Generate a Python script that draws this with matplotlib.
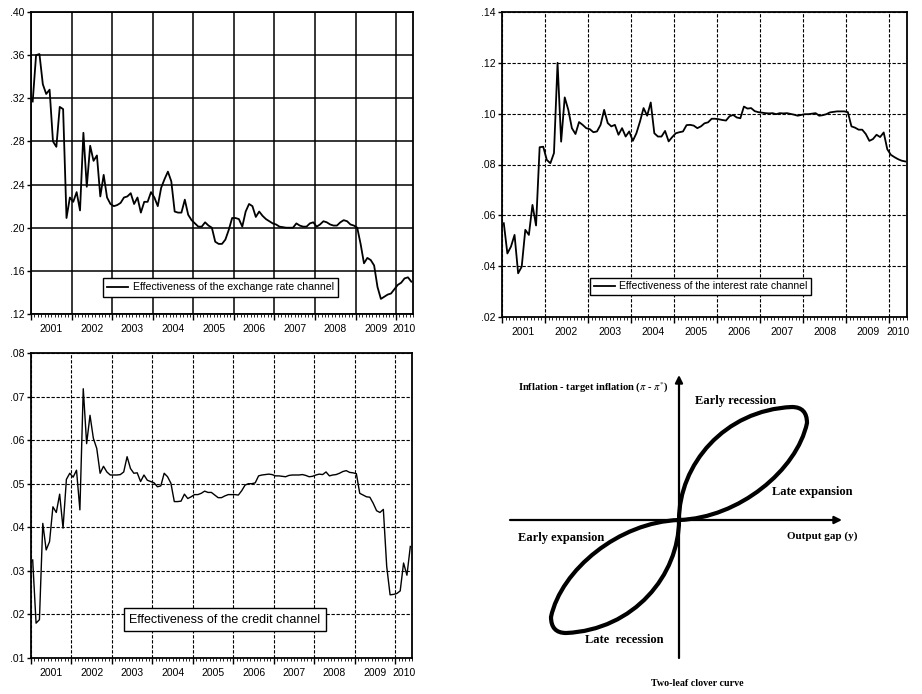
import numpy as np
import matplotlib
matplotlib.use('Agg')
import matplotlib.pyplot as plt
from matplotlib.path import Path
from matplotlib.patches import PathPatch
from matplotlib.ticker import FixedLocator, FuncFormatter, NullFormatter

plt.rcParams['font.family'] = ['Liberation Sans', 'DejaVu Sans']
plt.rcParams['mathtext.fontset'] = 'stix'

# monthly series, 2001M01 .. 2010M05
start_year = 2001
years = list(range(2001, 2011))

exchange = [
    .317, .360, .361, .333, .324, .328, .280, .275, .312, .310,
    .209, .228, .224, .233, .216, .288, .238, .276, .262, .267,
    .229, .249, .228, .222, .220, .221, .223, .228, .229, .232,
    .222, .228, .214, .224, .224, .233, .228, .220, .237, .245,
    .252, .243, .215, .214, .214, .226, .212, .207, .204, .201,
    .201, .205, .202, .200, .187, .185, .185, .189, .198, .209,
    .209, .208, .201, .215, .222, .220, .210, .215, .211, .208,
    .206, .204, .203, .201, .2005, .200, .200, .200, .204, .202,
    .201, .201, .204, .205, .201, .203, .206, .205, .203, .202,
    .202, .205, .207, .206, .203, .202, .200, .185, .167, .172,
    .170, .165, .145, .134, .136, .138, .139, .143, .147, .149,
    .153, .154, .150]

interest = [
    .0569, .0450, .0477, .0523, .0372, .0398, .0543, .0523, .0641, .0560,
    .0868, .0870, .0818, .0805, .0845, .1200, .0890, .1064, .1015, .0943,
    .0920, .0967, .0956, .0943, .0939, .0927, .0930, .0956, .1015, .0963,
    .0950, .0956, .0917, .0943, .0910, .0930, .0893, .0923, .0969, .1022,
    .0992, .1044, .0923, .0910, .0910, .0932, .0891, .0908, .0923, .0927,
    .0930, .0955, .0956, .0953, .0943, .0950, .0962, .0966, .0980, .0980,
    .0978, .0975, .0973, .0990, .0995, .0985, .0982, .1028, .1020, .1022,
    .1010, .1006, .1004, .1002, .1001, .1002, .0998, .1002, .1001, .1002,
    .0999, .0996, .0992, .0995, .0998, .0998, .1000, .1002, .0992, .0994,
    .0998, .1005, .1007, .1009, .1009, .1009, .1006, .0950, .0945, .0937,
    .0937, .0920, .0893, .0900, .0917, .0908, .0926, .0860, .0838, .0829,
    .0821, .0815, .0812]

credit = [
    .0325, .0180, .0188, .0409, .0348, .0367, .0447, .0434, .0476, .0398,
    .0510, .0524, .0515, .0531, .0440, .0718, .0592, .0657, .0604, .0581,
    .0524, .0540, .0527, .0520, .0520, .0520, .0521, .0527, .0562, .0535,
    .0524, .0525, .0505, .0520, .0508, .0505, .0502, .0493, .0495, .0524,
    .0516, .0501, .0459, .0459, .0460, .0476, .0466, .0470, .0475, .0475,
    .0478, .0483, .0480, .0480, .0474, .0468, .0468, .0472, .0475, .0475,
    .0475, .0474, .0484, .0497, .0500, .0500, .0502, .0518, .0520, .0521,
    .0522, .0521, .0518, .0518, .0517, .0516, .0519, .0520, .0520, .0520,
    .0521, .0519, .0516, .0517, .0520, .0522, .0521, .0527, .0518, .0520,
    .0521, .0524, .0528, .0530, .0526, .0525, .0523, .0478, .0474, .0470,
    .0469, .0455, .0438, .0434, .0441, .0310, .0245, .0246, .0248, .0254,
    .0318, .0290, .0356]

exchange_ticks = [.12, .16, .20, .24, .28, .32, .36, .40]
interest_ticks = [.02, .04, .06, .08, .10, .12, .14]
credit_ticks = [.01, .02, .03, .04, .05, .06, .07, .08]

exchange_label = 'Effectiveness of the exchange rate channel'
interest_label = 'Effectiveness of the interest rate channel'
credit_label = 'Effectiveness of the credit channel'

# two-leaf clover: bezier control points of the upper-right leaf (pixels from origin)
leaf_x = [0, 0, 45, 113, 128, 128, 118, 60, 0]
leaf_y = [0, 55, 110, 113, 113, 97, 50, 2, 0]
leaf_codes = [Path.MOVETO, Path.CURVE4, Path.CURVE4, Path.CURVE4,
              Path.CURVE3, Path.CURVE3, Path.CURVE4, Path.CURVE4, Path.CURVE4]


def dot_fmt(v, pos):
    return f"{v:.2f}".lstrip('0')


def time_panel(ax, values, yticks, grid_ls, lw, font):
    n = len(values)
    x = start_year + (np.arange(n) + 0.5) / 12
    x_end = start_year + n / 12
    ax.plot(x, values, color='black', lw=lw, label='_series')
    ax.set_xlim(start_year, x_end)
    ax.set_ylim(yticks[0], yticks[-1])

    ax.xaxis.set_major_locator(FixedLocator(years))
    ax.xaxis.set_minor_locator(FixedLocator(start_year + np.arange(n + 1) / 12))
    ax.xaxis.set_major_formatter(NullFormatter())
    ax.yaxis.set_major_locator(FixedLocator(yticks))
    ax.yaxis.set_major_formatter(FuncFormatter(dot_fmt))
    ax.tick_params(axis='x', which='major', length=4, width=1.0, direction='out')
    ax.tick_params(axis='x', which='minor', length=2, width=0.6, direction='out')
    ax.tick_params(axis='y', which='major', length=3, width=1.0, direction='out', pad=1.5)
    for lab in ax.get_yticklabels():
        lab.set_family(font)
        lab.set_fontsize(7.5)

    if grid_ls == 'solid':
        ax.grid(True, which='major', color='black', lw=1.1, ls='-')
    else:
        ax.grid(True, which='major', color='black', lw=0.8, ls=(0, (3, 1.5)))
    ax.set_axisbelow(True)

    for y in years:
        lo, hi = max(y, start_year), min(y + 1, x_end)
        ax.annotate(str(y), xy=((lo + hi) / 2, 0), xycoords=('data', 'axes fraction'),
                    xytext=(0, -11), textcoords='offset points', ha='center', va='center',
                    fontsize=7.5, family=font)
    for sp in ax.spines.values():
        sp.set_linewidth(1.3)
    return ax


fig = plt.figure(figsize=(9.22, 6.94), dpi=100)

narrow = ['Liberation Sans Narrow', 'Liberation Sans']

ax1 = fig.add_axes([31 / 922, 1 - 314 / 694, 382 / 922, 302 / 694])
time_panel(ax1, exchange, exchange_ticks, 'solid', 1.3, narrow)
ax1.lines[0].set_label(exchange_label)
leg = ax1.legend(loc='lower left', bbox_to_anchor=(0.175, 0.04), fancybox=False, framealpha=1,
                 edgecolor='black', borderpad=0.4, handlelength=2.0, handletextpad=0.4,
                 prop={'family': narrow, 'size': 7.6})
leg.get_frame().set_linewidth(1.0)

ax2 = fig.add_axes([502 / 922, 1 - 317 / 694, 405 / 922, 305 / 694])
time_panel(ax2, interest, interest_ticks, 'dashed', 1.3, ['Liberation Sans'])
ax2.lines[0].set_label(interest_label)
leg = ax2.legend(loc='lower left', bbox_to_anchor=(0.205, 0.055), fancybox=False, framealpha=1,
                 edgecolor='black', borderpad=0.35, handlelength=2.0, handletextpad=0.4,
                 prop={'family': 'Liberation Sans', 'size': 7.5})
leg.get_frame().set_linewidth(1.0)

ax3 = fig.add_axes([31 / 922, 1 - 658 / 694, 381 / 922, 305 / 694])
time_panel(ax3, credit, credit_ticks, 'dashed', 1.0, ['Liberation Sans'])
ax3.text(0.509, 0.126, credit_label, transform=ax3.transAxes, ha='center', va='center',
         fontsize=9, family='Liberation Sans',
         bbox=dict(boxstyle='square,pad=0.45', fc='white', ec='black', lw=1.0))

# schematic: two-leaf clover curve
ax4 = fig.add_axes([470 / 922, 0, 452 / 922, 354 / 694])
ax4.set_xlim(-209, 243)
ax4.set_ylim(-174, 180)
ax4.axis('off')

pts = np.column_stack([leaf_x, leaf_y]).astype(float)
for sign in (1, -1):
    ax4.add_patch(PathPatch(Path(sign * pts, leaf_codes), fill=False, ec='black', lw=3.0,
                            capstyle='round', joinstyle='round'))

arrow = dict(arrowstyle='-|>', color='black', lw=1.6, mutation_scale=11, shrinkA=0, shrinkB=0)
ax4.annotate('', xy=(163, 0), xytext=(-169, 0), arrowprops=arrow)
ax4.annotate('', xy=(0, 145), xytext=(0, -138), arrowprops=arrow)

serif = dict(family='Liberation Serif', weight='bold', color='black')
ax4.text(-161, 132, r'Inflation - target inflation ($\pi$ - $\pi^{*}$)', fontsize=7.6,
         ha='left', va='center', **serif)
ax4.text(16, 119, 'Early recession', fontsize=9, ha='left', va='center', **serif)
ax4.text(93, 28, 'Late expansion', fontsize=9, ha='left', va='center', **serif)
ax4.text(-161, -18, 'Early expansion', fontsize=9, ha='left', va='center', **serif)
ax4.text(108, -16, 'Output gap (y)', fontsize=8, ha='left', va='center', **serif)
ax4.text(-94, -120, 'Late  recession', fontsize=9, ha='left', va='center', **serif)
ax4.text(18, -163, 'Two-leaf clover curve', fontsize=7.2, ha='center', va='center', **serif)

fig.savefig('out.png', dpi=100)
